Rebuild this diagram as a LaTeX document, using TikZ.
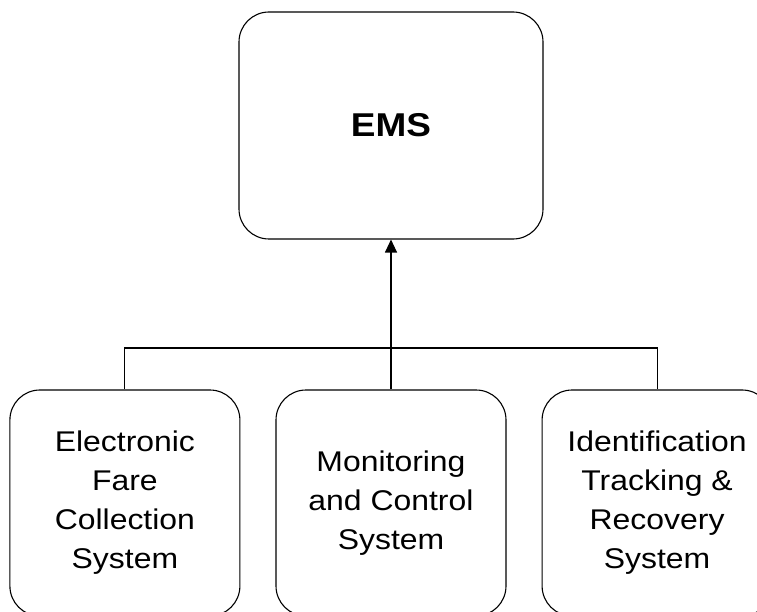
\documentclass[tikz,border=0pt]{standalone}
\usepackage{fontspec}
\setmainfont{Liberation Sans}[FakeStretch=1.12]
\usetikzlibrary{positioning, arrows.meta}

\begin{document}
\begin{tikzpicture}[x=1pt, y=-1pt, line width=1.1pt, node distance=35pt,
  unit/.style={draw, rounded corners=30pt, align=center, inner sep=0pt},
  subsys/.style={unit, minimum width=230pt, minimum height=226pt, font=\fontsize{28.5}{39}\selectfont}]
\useasboundingbox (0,0) rectangle (757,612);
\node[unit, minimum width=304pt, minimum height=227pt, font=\fontsize{33}{38}\selectfont\bfseries]
  (ems) at (391,125.5) {EMS};
\node[subsys] (mcs) at (391,503) {Monitoring\\and Control\\System};
\node[subsys, left=of mcs] (efc) {Electronic\\Fare\\Collection\\System};
\node[subsys, right=of mcs] (itr) {Identification\\Tracking \&\\Recovery\\System};
\coordinate (bus) at (391,348);
\draw (efc.north) |- (bus) -| (itr.north);
\draw[-{Triangle[length=13pt, width=12pt]}] (mcs.north) -- (ems.south);
\end{tikzpicture}
\end{document}
